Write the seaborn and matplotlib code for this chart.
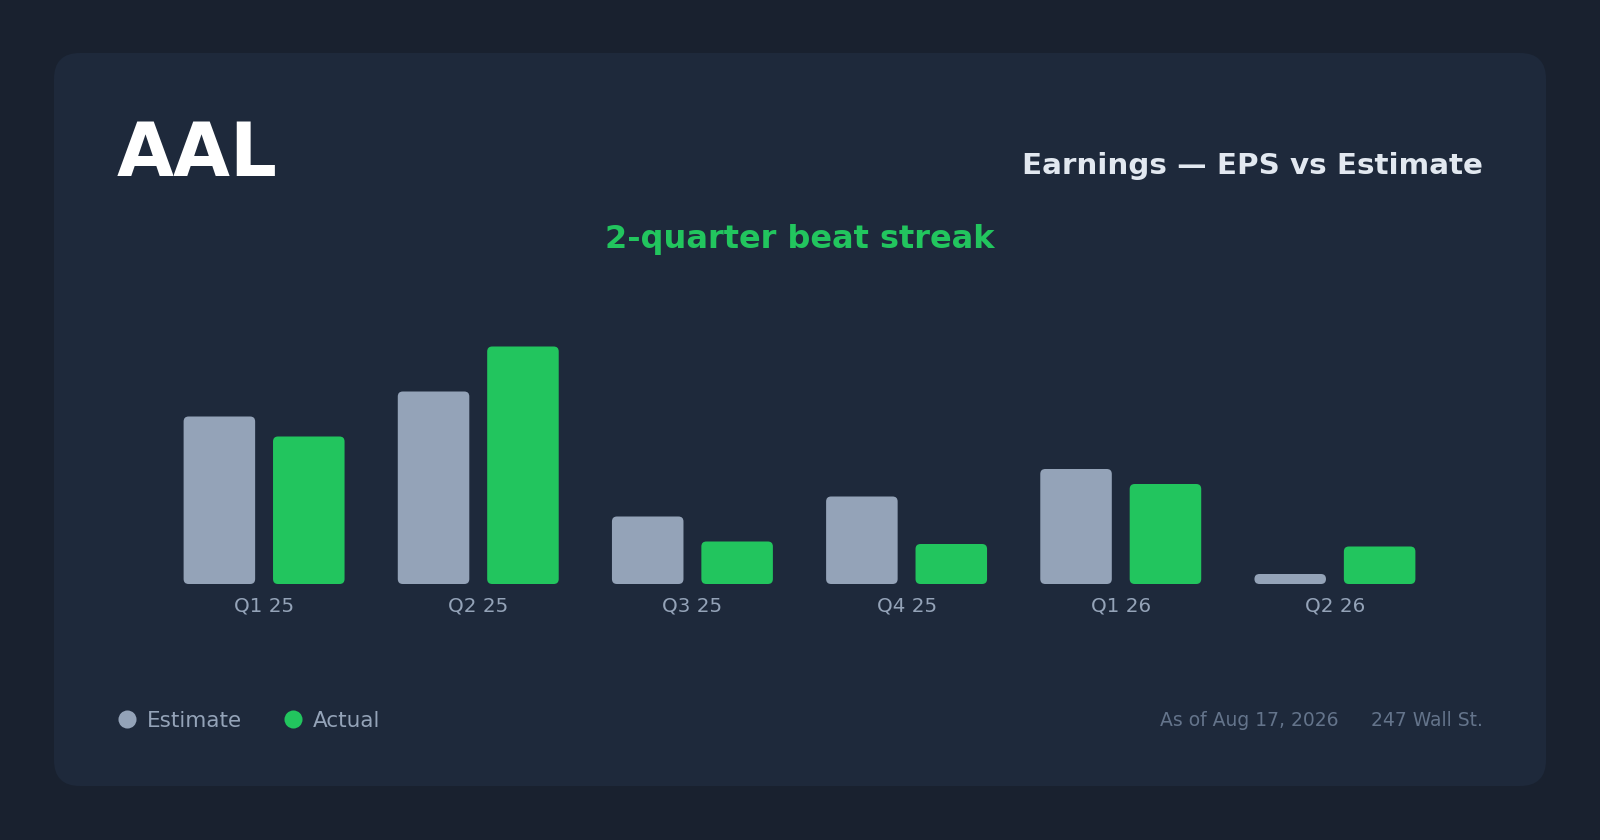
import matplotlib
matplotlib.use("Agg")

import pandas as pd
import matplotlib.pyplot as plt
import seaborn as sns
from matplotlib.patches import FancyBboxPatch
from matplotlib.lines import Line2D

# ─────────────────────────────────────────────
# DATA
# ─────────────────────────────────────────────

TICKER = "AAL"
QUARTERS = ["Q1 25", "Q2 25", "Q3 25", "Q4 25", "Q1 26", "Q2 26"]
EPS_ESTIMATE = [0.67, 0.77, 0.27, 0.35, 0.46, 0.04]   # bar heights (|EPS|)
EPS_ACTUAL   = [0.59, 0.95, 0.17, 0.16, 0.40, 0.15]
SERIES = ["Estimate", "Actual"]

TITLE = "Earnings — EPS vs Estimate"
SUBTITLE = "2-quarter beat streak"
AS_OF = "As of Aug 17, 2026"
SOURCE = "247 Wall St."

# ─────────────────────────────────────────────
# STYLE
# ─────────────────────────────────────────────

OUTER_BG = "#19212f"
CARD_BG  = "#1e293b"
GRAY     = "#94a3b8"
GREEN    = "#22c55e"
TITLE_C  = "#e2e8f0"
MUTED    = "#64748b"

W, H = 1600, 840

sns.set_theme(style="white")
plt.rcParams["font.family"] = ["DejaVu Sans"]

df = pd.DataFrame({
    "quarter": QUARTERS * 2,
    "series": [SERIES[0]] * len(QUARTERS) + [SERIES[1]] * len(QUARTERS),
    "eps": EPS_ESTIMATE + EPS_ACTUAL,
})

fig = plt.figure(figsize=(W / 100, H / 100), dpi=100)
fig.patch.set_facecolor(OUTER_BG)

# card (behind the axes)
card = FancyBboxPatch(
    (54 / W, 1 - 786 / H), (1546 - 54) / W, (786 - 53) / H,
    boxstyle="round,pad=0,rounding_size=%f" % (26 / W),
    mutation_aspect=W / H,
    transform=fig.transFigure, facecolor=CARD_BG, edgecolor="none", zorder=-5,
)
fig.patches.append(card)

# axes: baseline at y=584px, 1 unit = 250px
ax_left, ax_right = 157, 1442
base_y, unit_px = 584, 250
ax = fig.add_axes([ax_left / W, 1 - base_y / H, (ax_right - ax_left) / W, unit_px / H])
ax.set_facecolor("none")
ax.set_zorder(2)

sns.barplot(
    data=df, x="quarter", y="eps", hue="series",
    palette={SERIES[0]: GRAY, SERIES[1]: GREEN},
    width=0.835, gap=0.2, legend=False, ax=ax,
    saturation=1, linewidth=0,
)

ax.set_xlim(-0.5, len(QUARTERS) - 0.5)
ax.set_ylim(0, 1.0)
for s in ax.spines.values():
    s.set_visible(False)
ax.set_xlabel("")
ax.set_ylabel("")
ax.set_yticks([])
ax.tick_params(axis="x", length=0, pad=9, labelsize=14.3, labelcolor=GRAY)

# rounded bar corners
px_x = (ax_right - ax_left) / len(QUARTERS)
px_y = unit_px / 1.0
radius_px = 5
for rect in list(ax.patches):
    x0, y0 = rect.get_x(), rect.get_y()
    w, h = rect.get_width(), rect.get_height()
    fc = rect.get_facecolor()
    rect.remove()
    ax.add_patch(FancyBboxPatch(
        (x0, y0), w, h,
        boxstyle="round,pad=0,rounding_size=%f" % (radius_px / px_x),
        mutation_aspect=px_x / px_y,
        facecolor=fc, edgecolor="none",
    ))

# ─────────────────────────────────────────────
# TEXT
# ─────────────────────────────────────────────

fig.text(117 / W, 1 - 176 / H, TICKER, color="white", fontsize=53,
         fontweight="bold", ha="left", va="baseline")
fig.text(1483 / W, 1 - 174 / H, TITLE, color=TITLE_C, fontsize=21.2,
         fontweight="bold", ha="right", va="baseline")
fig.text(800 / W, 1 - 248 / H, SUBTITLE, color=GREEN, fontsize=23,
         fontweight="bold", ha="center", va="baseline")

fig.text(1339 / W, 1 - 720 / H, AS_OF, color=MUTED, fontsize=13.5,
         ha="right", va="center")
fig.text(1483 / W, 1 - 720 / H, SOURCE, color=MUTED, fontsize=13.5,
         ha="right", va="center")

handles = [
    Line2D([], [], marker="o", linestyle="none", markersize=13,
           markerfacecolor=c, markeredgecolor="none")
    for c in (GRAY, GREEN)
]
leg = fig.legend(
    handles, SERIES, loc="center left", bbox_to_anchor=(117 / W, 1 - 721 / H),
    ncol=2, frameon=False, fontsize=15.5, handlelength=0.9, handletextpad=0.5,
    columnspacing=1.9, borderpad=0, borderaxespad=0,
)
for t in leg.get_texts():
    t.set_color(GRAY)

fig.savefig("out.png", dpi=100, facecolor=fig.get_facecolor())
